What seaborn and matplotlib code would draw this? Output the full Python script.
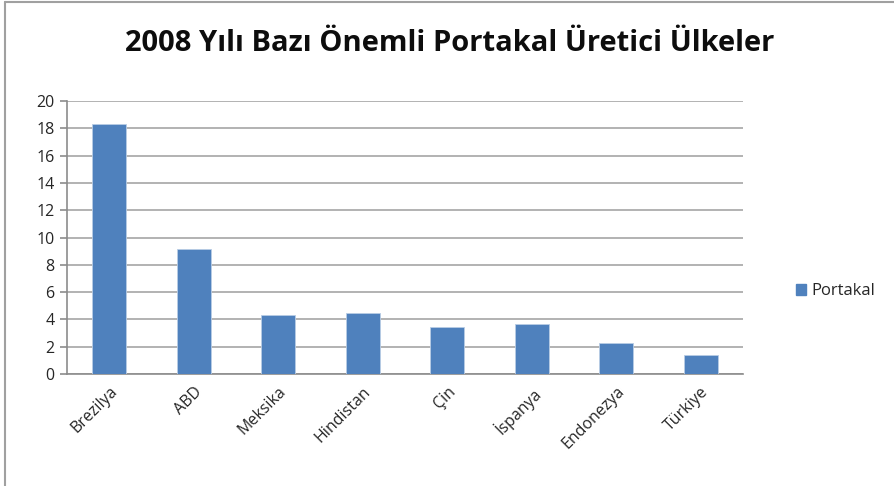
"""
2008 orange producers bar chart (Excel-style).
"""
import matplotlib
matplotlib.use("Agg")
import matplotlib.pyplot as plt
import numpy as np
import pandas as pd
import seaborn as sns
from matplotlib.lines import Line2D
from matplotlib.patches import Patch
from matplotlib.ticker import FixedLocator

TITLE = "2008 Yılı Bazı Önemli Portakal Üretici Ülkeler"
COUNTRIES = ["Brezilya", "ABD", "Meksika", "Hindistan", "Çin", "İspanya", "Endonezya", "Türkiye"]
PRODUCTION = [18.35, 9.18, 4.32, 4.45, 3.47, 3.69, 2.3, 1.42]
SERIES_NAME = "Portakal"
Y_TICKS = [0, 2, 4, 6, 8, 10, 12, 14, 16, 18, 20]

BAR_COLOR = "#4F81BD"
GRID_COLOR = "#A6A6A6"

sns.set_theme(style="white")
plt.rcParams["font.family"] = ["Open Sans", "DejaVu Sans"]

df = pd.DataFrame({"country": COUNTRIES, "value": PRODUCTION})

fig = plt.figure(figsize=(8.94, 4.86), dpi=100)
ax = fig.add_axes([0.075, 0.2305, 0.756, 0.5615])

sns.barplot(data=df, x="country", y="value", color=BAR_COLOR, saturation=1,
            width=0.4, edgecolor="#B9CDE5", linewidth=0.6, ax=ax, zorder=3)

ax.set_ylim(0, 20)
ax.set_xlim(-0.5, len(COUNTRIES) - 0.5)
ax.set_yticks(Y_TICKS)
ax.yaxis.grid(True, color=GRID_COLOR, linewidth=1.2, zorder=0)
ax.set_axisbelow(True)
ax.set_xlabel("")
ax.set_ylabel("")

for side in ["top", "right"]:
    ax.spines[side].set_visible(False)
for side in ["left", "bottom"]:
    ax.spines[side].set_color("#8C8C8C")
    ax.spines[side].set_linewidth(1.2)

# tick marks between categories like Excel
ax.xaxis.set_minor_locator(FixedLocator(np.arange(-0.5, len(COUNTRIES), 1.0)))
ax.tick_params(axis="x", which="major", length=0, pad=7, labelsize=11.5, labelcolor="#262626")
ax.tick_params(axis="x", which="minor", length=5, width=1.2, color="#8C8C8C", direction="out")
ax.tick_params(axis="y", which="major", length=5, width=1.2, color="#8C8C8C",
               direction="out", left=True, labelsize=11.5, labelcolor="#262626", pad=4)
plt.setp(ax.get_xticklabels(), rotation=45, ha="right", rotation_mode="anchor")

fig.suptitle(TITLE, x=0.503, y=0.94, fontsize=21, fontweight="bold", color="#0D0D0D")

handle = Patch(facecolor=BAR_COLOR, edgecolor=BAR_COLOR)
fig.legend([handle], [SERIES_NAME], loc="center left", bbox_to_anchor=(0.881, 0.401),
           frameon=False, fontsize=12, handlelength=0.6, handleheight=0.6,
           handletextpad=0.3, borderpad=0)

# outer chart border
fig.add_artist(Line2D([0.0056, 0.0056], [0, 0.996], transform=fig.transFigure,
                      color="#A0A0A0", linewidth=1.5))
fig.add_artist(Line2D([0.0056, 1], [0.996, 0.996], transform=fig.transFigure,
                      color="#A0A0A0", linewidth=1.5))

fig.savefig("out.png", dpi=100)
